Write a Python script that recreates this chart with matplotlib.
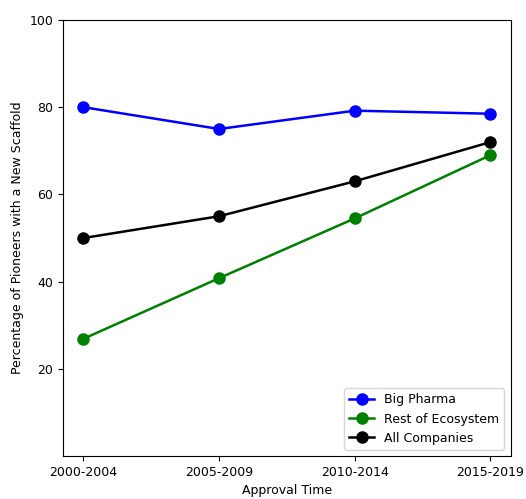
import matplotlib
matplotlib.use("Agg")
import matplotlib.pyplot as plt

periods = ["2000-2004", "2005-2009", "2010-2014", "2015-2019"]
big_pharma = [80.0, 75.0, 79.2, 78.5]
rest_of_ecosystem = [26.9, 40.8, 54.5, 69.0]
all_companies = [50.0, 55.0, 63.0, 72.0]

plt.rcParams["font.size"] = 9

fig, ax = plt.subplots(figsize=(5.26, 4.99), dpi=100)
fig.subplots_adjust(left=0.12, right=0.971, top=0.96, bottom=0.086)

x = range(len(periods))
ax.plot(x, big_pharma, "o-", color="blue", lw=1.8, markersize=8, label="Big Pharma")
ax.plot(x, rest_of_ecosystem, "o-", color="green", lw=1.8, markersize=8, label="Rest of Ecosystem")
ax.plot(x, all_companies, "o-", color="black", lw=1.8, markersize=8, label="All Companies")

ax.set_xticks(list(x))
ax.set_xticklabels(periods)
ax.set_ylim(0, 100)
ax.set_yticks([20, 40, 60, 80, 100])
ax.set_xlabel("Approval Time")
ax.set_ylabel("Percentage of Pioneers with a New Scaffold")
ax.legend(loc="lower right")

fig.savefig("out.png", dpi=100)
